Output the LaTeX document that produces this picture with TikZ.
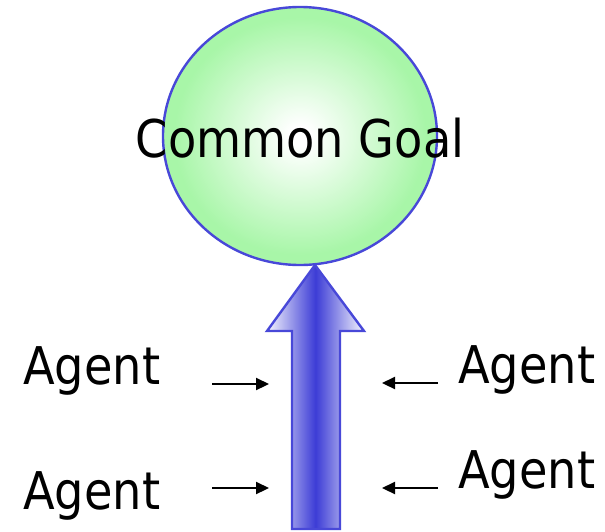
\documentclass[tikz,border=0pt]{standalone}
\usepackage{fontspec}
\setmainfont{DejaVu Sans}[FakeStretch=0.89]
\usetikzlibrary{arrows.meta,shapes.geometric}
\definecolor{goalgreen}{RGB}{168,246,168}
\definecolor{edgeblue}{RGB}{72,72,216}
\definecolor{arrowblue}{RGB}{60,60,214}
\definecolor{lav}{RGB}{245,245,253}
\pgfdeclareradialshading{goalshade}{\pgfpoint{0bp}{0bp}}{color(0bp)=(white); color(2bp)=(white); color(23bp)=(goalgreen); color(50bp)=(goalgreen)}
\begin{document}
\begin{tikzpicture}[x=1pt,y=-1pt,
  lbl/.style={inner sep=0pt, font=\fontsize{52}{60}\selectfont},
  push/.style={line width=2.2pt, -{Triangle[length=13pt,width=12pt]}},
  outline/.style={draw=edgeblue, line width=2.4pt}]
\useasboundingbox (0,0) rectangle (605,531);
% goal ellipse
\node[ellipse, outline, shade, shading=goalshade, minimum width=274pt, minimum height=258pt, inner sep=0pt] (goal) at (300,136) {};
\node[lbl, anchor=base] (goaltext) at (300,157) {Common Goal};
% big arrow
\coordinate (tip) at (315,265);
\coordinate (hr) at (364,331);
\coordinate (sr) at (340,331);
\coordinate (sbr) at (340,529);
\coordinate (sbl) at (292,529);
\coordinate (sl) at (292,331);
\coordinate (hl) at (267,331);
\shadedraw[outline, left color=lav, right color=lav, middle color=arrowblue, line join=miter]
  (tip) -- (hr) -- (sr) -- (sbr) -- (sbl) -- (sl) -- (hl) -- cycle;
% agents
\node[lbl, anchor=base west] (agl1) at (23,384) {Agent};
\node[lbl, anchor=base west] (agl2) at (23,509) {Agent};
\node[lbl, anchor=base west] (agr1) at (458,383) {Agent};
\node[lbl, anchor=base west] (agr2) at (458,488) {Agent};
% small arrows
\coordinate (l1s) at (212,384); \coordinate (l1e) at (269,384);
\coordinate (l2s) at (212,488); \coordinate (l2e) at (269,488);
\coordinate (r1s) at (438,383); \coordinate (r1e) at (382,383);
\coordinate (r2s) at (438,488); \coordinate (r2e) at (382,488);
\draw[push] (l1s) -- (l1e);
\draw[push] (l2s) -- (l2e);
\draw[push] (r1s) -- (r1e);
\draw[push] (r2s) -- (r2e);
\end{tikzpicture}
\end{document}
